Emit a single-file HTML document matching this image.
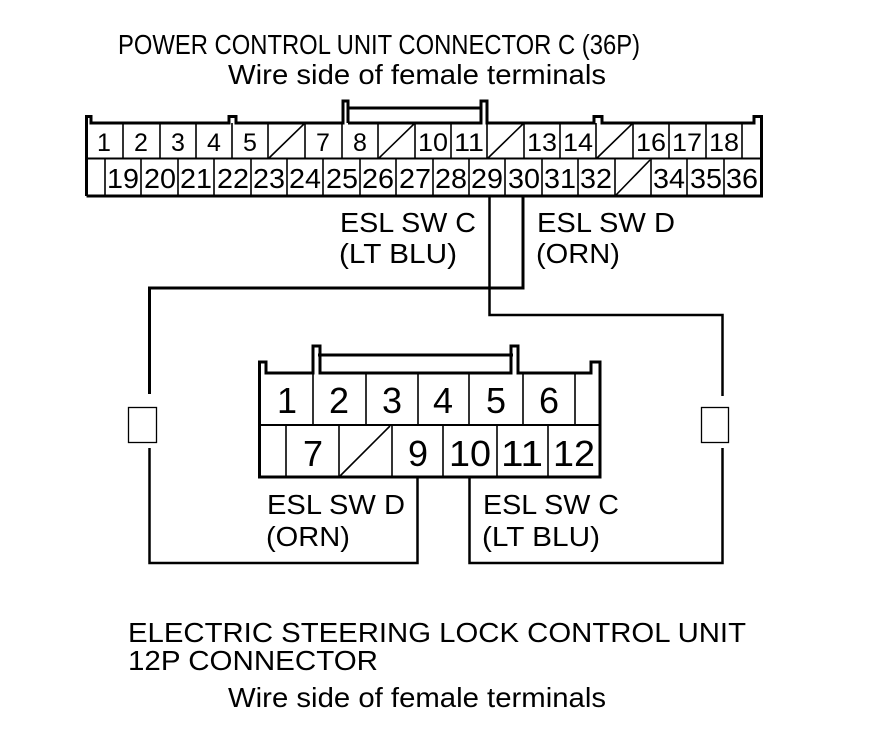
<!DOCTYPE html>
<html><head><meta charset="utf-8"><style>
html,body{margin:0;padding:0;background:#fff;}
svg{display:block;}
text{font-family:"Liberation Sans",Arial,sans-serif;fill:#000;}
</style></head><body>
<svg width="880" height="736" viewBox="0 0 880 736" xmlns="http://www.w3.org/2000/svg">
<!-- titles -->
<text x="118" y="54" font-size="28" textLength="522" lengthAdjust="spacingAndGlyphs">POWER CONTROL UNIT CONNECTOR C (36P)</text>
<text x="228" y="84" font-size="28" textLength="378" lengthAdjust="spacingAndGlyphs">Wire side of female terminals</text>

<!-- top connector -->
<g fill="none" stroke="#000">
<path stroke-width="3" d="M86.5,196 V116.5 H91 V123 H229 V116.5 H236 V123 H343 V101 H348 V123 M86.5,196 H761.5 V116.5 H754 V123 H602 V116.5 H594 V123 H487 V101 H481 V123 H348 M348,108 H481"/>
<line x1="86" y1="158.5" x2="761" y2="158.5" stroke-width="2"/>
</g>

<!-- bottom connector -->
<g fill="none" stroke="#000">
<path stroke-width="3" d="M259.5,477 V362 H266 V373 H313 V346 H320 V373 H511 V346 H518 V373 H591 V362 H600 V477 Z M318,355 H513"/>
<line x1="259" y1="425" x2="600" y2="425" stroke-width="2"/>
<g stroke-width="1.6">
<line x1="313" y1="373" x2="313" y2="425"/><line x1="366" y1="373" x2="366" y2="425"/>
<line x1="418" y1="373" x2="418" y2="425"/><line x1="469" y1="373" x2="469" y2="425"/>
<line x1="523" y1="373" x2="523" y2="425"/><line x1="575" y1="373" x2="575" y2="425"/>
<line x1="286" y1="425" x2="286" y2="477"/><line x1="339" y1="425" x2="339" y2="477"/>
<line x1="392" y1="425" x2="392" y2="477"/><line x1="443" y1="425" x2="443" y2="477"/>
<line x1="497" y1="425" x2="497" y2="477"/><line x1="548" y1="425" x2="548" y2="477"/>
<line x1="340" y1="476" x2="390" y2="426"/>
</g>
</g>
<g font-size="36" text-anchor="middle">
<text x="287" y="413">1</text><text x="339" y="413">2</text><text x="392" y="413">3</text>
<text x="443" y="413">4</text><text x="496" y="413">5</text><text x="549" y="413">6</text>
<text x="313" y="466">7</text><text x="418" y="466">9</text>
<text x="470" y="466" textLength="42" lengthAdjust="spacingAndGlyphs">10</text>
<text x="522" y="466" textLength="42" lengthAdjust="spacingAndGlyphs">11</text>
<text x="574" y="466" textLength="42" lengthAdjust="spacingAndGlyphs">12</text>
</g>

<!-- wires -->
<g fill="none" stroke="#000">
<path stroke-width="3" d="M523,197 V288 H149.5 V394"/>
<path stroke-width="2.5" d="M149.5,448 V563 H417.5 V477"/>
<path stroke-width="2.5" d="M489.5,197 V315 H722.5 V396 M722.5,448 V563 H469.5 V477"/>
<rect x="128.5" y="407.5" width="28" height="35" stroke-width="1.3"/>
<rect x="701.5" y="407.5" width="27" height="35" stroke-width="1.3"/>
</g>

<!-- labels -->
<g font-size="28">
<text x="340" y="232" textLength="136" lengthAdjust="spacingAndGlyphs">ESL SW C</text>
<text x="339" y="263" textLength="118" lengthAdjust="spacingAndGlyphs">(LT BLU)</text>
<text x="537" y="232" textLength="138" lengthAdjust="spacingAndGlyphs">ESL SW D</text>
<text x="536" y="263" textLength="84" lengthAdjust="spacingAndGlyphs">(ORN)</text>
<text x="267" y="514" textLength="138" lengthAdjust="spacingAndGlyphs">ESL SW D</text>
<text x="266" y="546" textLength="84" lengthAdjust="spacingAndGlyphs">(ORN)</text>
<text x="483" y="514" textLength="136" lengthAdjust="spacingAndGlyphs">ESL SW C</text>
<text x="482" y="546" textLength="118" lengthAdjust="spacingAndGlyphs">(LT BLU)</text>
</g>
<text x="128" y="642" font-size="28" textLength="618" lengthAdjust="spacingAndGlyphs">ELECTRIC STEERING LOCK CONTROL UNIT</text>
<text x="128" y="670" font-size="28" textLength="250" lengthAdjust="spacingAndGlyphs">12P CONNECTOR</text>
<text x="228" y="707" font-size="28" textLength="378" lengthAdjust="spacingAndGlyphs">Wire side of female terminals</text>

<!-- top connector cells -->
<g stroke="#000" stroke-width="1.6">
<line x1="123" y1="123" x2="123" y2="158"/><line x1="160" y1="123" x2="160" y2="158"/>
<line x1="196" y1="123" x2="196" y2="158"/><line x1="232" y1="123" x2="232" y2="158"/>
<line x1="268" y1="123" x2="268" y2="158"/><line x1="305" y1="123" x2="305" y2="158"/>
<line x1="342" y1="123" x2="342" y2="158"/><line x1="378" y1="123" x2="378" y2="158"/>
<line x1="415" y1="123" x2="415" y2="158"/><line x1="451" y1="123" x2="451" y2="158"/>
<line x1="487" y1="123" x2="487" y2="158"/><line x1="524" y1="123" x2="524" y2="158"/>
<line x1="560" y1="123" x2="560" y2="158"/><line x1="596" y1="123" x2="596" y2="158"/>
<line x1="633" y1="123" x2="633" y2="158"/><line x1="669" y1="123" x2="669" y2="158"/>
<line x1="706" y1="123" x2="706" y2="158"/><line x1="742" y1="123" x2="742" y2="158"/>
<line x1="269" y1="158" x2="304" y2="124"/><line x1="379" y1="158" x2="414" y2="124"/>
<line x1="488" y1="158" x2="523" y2="124"/><line x1="597" y1="158" x2="632" y2="124"/>
<line x1="105" y1="158" x2="105" y2="196"/><line x1="141" y1="158" x2="141" y2="196"/>
<line x1="178" y1="158" x2="178" y2="196"/><line x1="214" y1="158" x2="214" y2="196"/>
<line x1="251" y1="158" x2="251" y2="196"/><line x1="287" y1="158" x2="287" y2="196"/>
<line x1="323" y1="158" x2="323" y2="196"/><line x1="360" y1="158" x2="360" y2="196"/>
<line x1="396" y1="158" x2="396" y2="196"/><line x1="433" y1="158" x2="433" y2="196"/>
<line x1="469" y1="158" x2="469" y2="196"/><line x1="505" y1="158" x2="505" y2="196"/>
<line x1="542" y1="158" x2="542" y2="196"/><line x1="578" y1="158" x2="578" y2="196"/>
<line x1="615" y1="158" x2="615" y2="196"/><line x1="651" y1="158" x2="651" y2="196"/>
<line x1="687" y1="158" x2="687" y2="196"/><line x1="724" y1="158" x2="724" y2="196"/>
<line x1="616" y1="195" x2="650" y2="160"/>
</g>
<g font-size="25" text-anchor="middle">
<text x="104" y="151">1</text><text x="141" y="151">2</text><text x="178" y="151">3</text>
<text x="214" y="151">4</text><text x="250" y="151">5</text><text x="323" y="151">7</text>
<text x="360" y="151">8</text>
<text x="433" y="151" textLength="30" lengthAdjust="spacingAndGlyphs">10</text>
<text x="469" y="151" textLength="30" lengthAdjust="spacingAndGlyphs">11</text>
<text x="542" y="151" textLength="30" lengthAdjust="spacingAndGlyphs">13</text>
<text x="578" y="151" textLength="30" lengthAdjust="spacingAndGlyphs">14</text>
<text x="651" y="151" textLength="30" lengthAdjust="spacingAndGlyphs">16</text>
<text x="687" y="151" textLength="30" lengthAdjust="spacingAndGlyphs">17</text>
<text x="724" y="151" textLength="30" lengthAdjust="spacingAndGlyphs">18</text>
</g>
<g font-size="28" text-anchor="middle">
<text x="123" y="188" textLength="32" lengthAdjust="spacingAndGlyphs">19</text>
<text x="160" y="188" textLength="32" lengthAdjust="spacingAndGlyphs">20</text>
<text x="196" y="188" textLength="32" lengthAdjust="spacingAndGlyphs">21</text>
<text x="233" y="188" textLength="32" lengthAdjust="spacingAndGlyphs">22</text>
<text x="269" y="188" textLength="32" lengthAdjust="spacingAndGlyphs">23</text>
<text x="305" y="188" textLength="32" lengthAdjust="spacingAndGlyphs">24</text>
<text x="342" y="188" textLength="32" lengthAdjust="spacingAndGlyphs">25</text>
<text x="378" y="188" textLength="32" lengthAdjust="spacingAndGlyphs">26</text>
<text x="415" y="188" textLength="32" lengthAdjust="spacingAndGlyphs">27</text>
<text x="451" y="188" textLength="32" lengthAdjust="spacingAndGlyphs">28</text>
<text x="487" y="188" textLength="32" lengthAdjust="spacingAndGlyphs">29</text>
<text x="524" y="188" textLength="32" lengthAdjust="spacingAndGlyphs">30</text>
<text x="560" y="188" textLength="32" lengthAdjust="spacingAndGlyphs">31</text>
<text x="596" y="188" textLength="32" lengthAdjust="spacingAndGlyphs">32</text>
<text x="669" y="188" textLength="32" lengthAdjust="spacingAndGlyphs">34</text>
<text x="706" y="188" textLength="32" lengthAdjust="spacingAndGlyphs">35</text>
<text x="742" y="188" textLength="32" lengthAdjust="spacingAndGlyphs">36</text>
</g>
</svg>
</body></html>
